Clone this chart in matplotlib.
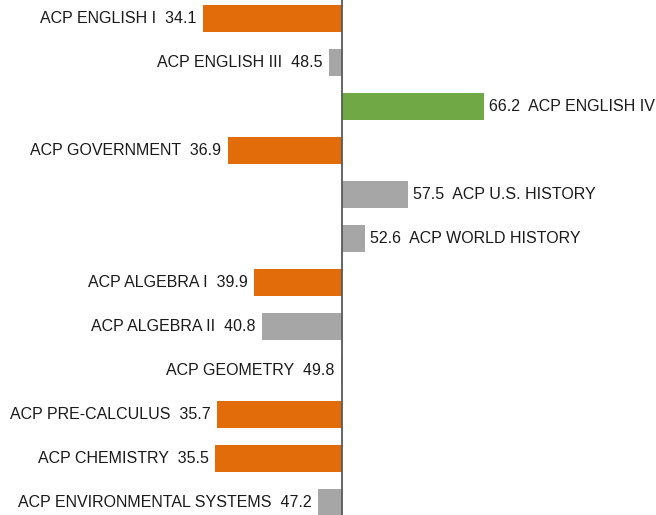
import matplotlib
matplotlib.use("Agg")
import matplotlib.pyplot as plt

courses = [
    "ACP ENGLISH I", "ACP ENGLISH III", "ACP ENGLISH IV", "ACP GOVERNMENT",
    "ACP U.S. HISTORY", "ACP WORLD HISTORY", "ACP ALGEBRA I", "ACP ALGEBRA II",
    "ACP GEOMETRY", "ACP PRE-CALCULUS", "ACP CHEMISTRY", "ACP ENVIRONMENTAL SYSTEMS",
]
scores = [34.1, 48.5, 66.2, 36.9, 57.5, 52.6, 39.9, 40.8, 49.8, 35.7, 35.5, 47.2]
bar_colors = ["#E36C0A", "#A6A6A6", "#70A845", "#E36C0A", "#A6A6A6", "#A6A6A6",
              "#E36C0A", "#A6A6A6", "#A6A6A6", "#E36C0A", "#E36C0A", "#A6A6A6"]
baseline = 50.0

plt.rcParams["font.family"] = ["Liberation Sans", "DejaVu Sans"]

fig = plt.figure(figsize=(6.56, 5.15), dpi=100)
ax = fig.add_axes([0, 0, 1, 1])

rows = list(range(len(courses)))
ax.barh(rows, [s - baseline for s in scores], left=baseline, height=0.613,
        color=bar_colors, edgecolor="none")

for r, name, s in zip(rows, courses, scores):
    if s >= baseline:
        ax.text(s + 0.6, r, f"{s:.1f}  {name}", ha="left", va="center",
                fontsize=11.5, color="#1a1a1a")
    else:
        ax.text(s - 0.75, r, f"{name}  {s:.1f}", ha="right", va="center",
                fontsize=11.5, color="#1a1a1a")

ax.axvline(baseline, color="#595959", lw=1.3)

ax.set_xlim(10.88, 85.85)
ax.set_ylim(11.278, -0.413)
ax.axis("off")

fig.savefig("out.png", dpi=100)
